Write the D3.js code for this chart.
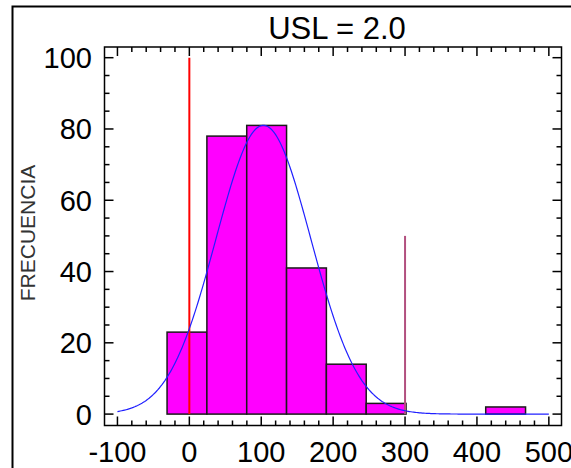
<!DOCTYPE html>
<html>
<head>
<meta charset="utf-8">
<script src="https://cdn.jsdelivr.net/npm/d3@7"></script>
<style>
  html, body { margin: 0; padding: 0; background: #fff; }
  svg { display: block; font-family: "Liberation Sans", Arial, sans-serif; }
</style>
</head>
<body>
<svg id="chart" width="571" height="468"></svg>
<script>
// Histogram bins (edges) and observed counts
const binEdges = [-31, 24.4, 79.8, 135.2, 190.6, 246, 301.4, 356.8, 412.2, 467.6];
const counts = [23, 78, 81, 41, 14, 3, 0, 0, 2];

// Fitted normal curve parameters
const fitMean = 103;
const fitSd = 66;
const curveRange = [-100, 500];

// Specification limits: [position, line height]
const lowerLimit = [0, 100];
const upperLimit = [300, 50];

// Axis ticks
const xTicks = [-100, 0, 100, 200, 300, 400, 500];
const yTicks = [0, 20, 40, 60, 80, 100];

const titleText = "USL = 2.0";
const yLabel = "FRECUENCIA";

const svg = d3.select("#chart");
const frame = { left: 104.5, right: 561.5, top: 47, bottom: 425.5 };

const x = d3.scaleLinear().domain([-118, 517.6]).range([frame.left, frame.right]);
const y = d3.scaleLinear().domain([-3.2, 103]).range([frame.bottom, frame.top]);

// Outer panel border
svg.append("rect")
  .attr("x", 12.5).attr("y", 6.5)
  .attr("width", 600).attr("height", 500)
  .attr("fill", "none").attr("stroke", "#000").attr("stroke-width", 2);

// Plot area
svg.append("rect")
  .attr("x", frame.left).attr("y", frame.top)
  .attr("width", frame.right - frame.left).attr("height", frame.bottom - frame.top)
  .attr("fill", "#fff");

// Histogram bars
const bins = counts.map((c, i) => ({ x0: binEdges[i], x1: binEdges[i + 1], n: c }));
svg.append("g").selectAll("rect").data(bins).join("rect")
  .attr("x", d => x(d.x0))
  .attr("y", d => y(d.n))
  .attr("width", d => x(d.x1) - x(d.x0))
  .attr("height", d => y(0) - y(d.n))
  .attr("fill", "#ff00ff")
  .attr("stroke", "#1a1a1a")
  .attr("stroke-width", 1.5);

// Specification lines
svg.append("line")
  .attr("x1", x(lowerLimit[0])).attr("x2", x(lowerLimit[0]))
  .attr("y1", y(0)).attr("y2", y(lowerLimit[1]))
  .attr("stroke", "#ff0000").attr("stroke-width", 2);
svg.append("line")
  .attr("x1", x(upperLimit[0])).attr("x2", x(upperLimit[0]))
  .attr("y1", y(0)).attr("y2", y(upperLimit[1]))
  .attr("stroke", "#b2507f").attr("stroke-width", 2);

// Fitted normal density scaled to counts
const total = d3.sum(counts);
const width = binEdges[1] - binEdges[0];
const density = v => total * width * Math.exp(-0.5 * ((v - fitMean) / fitSd) ** 2) / (fitSd * Math.sqrt(2 * Math.PI));
const curveX = d3.range(curveRange[0], curveRange[1] + 0.001, 2);
svg.append("path")
  .datum(curveX)
  .attr("d", d3.line().x(v => x(v)).y(v => y(density(v))))
  .attr("fill", "none").attr("stroke", "#2020ff").attr("stroke-width", 1.2);

// Frame
svg.append("rect")
  .attr("x", frame.left).attr("y", frame.top)
  .attr("width", frame.right - frame.left).attr("height", frame.bottom - frame.top)
  .attr("fill", "none").attr("stroke", "#000").attr("stroke-width", 1.5);

// Ticks pointing inward on all four sides
const tickG = svg.append("g").attr("stroke", "#000").attr("stroke-width", 1.5);
const xMinor = d3.range(-100, 501, 20);
const yMinor = d3.range(0, 101, 5);
xMinor.forEach(v => {
  const len = v % 100 === 0 ? 9 : 5;
  tickG.append("line").attr("x1", x(v)).attr("x2", x(v)).attr("y1", frame.bottom).attr("y2", frame.bottom - len);
  tickG.append("line").attr("x1", x(v)).attr("x2", x(v)).attr("y1", frame.top).attr("y2", frame.top + len);
});
yMinor.forEach(v => {
  const len = v % 20 === 0 ? 9 : 5;
  tickG.append("line").attr("y1", y(v)).attr("y2", y(v)).attr("x1", frame.left).attr("x2", frame.left + len);
  tickG.append("line").attr("y1", y(v)).attr("y2", y(v)).attr("x1", frame.right).attr("x2", frame.right - len);
});

// Tick labels
svg.append("g").selectAll("text").data(xTicks).join("text")
  .attr("x", d => x(d)).attr("y", 462)
  .attr("text-anchor", "middle")
  .attr("font-size", 29).attr("fill", "#000")
  .text(d => d);
svg.append("g").selectAll("text").data(yTicks).join("text")
  .attr("x", 92).attr("y", d => y(d))
  .attr("dy", "0.36em")
  .attr("text-anchor", "end")
  .attr("font-size", 29).attr("fill", "#000")
  .text(d => d);

// Title and axis label
svg.append("text")
  .attr("x", 337).attr("y", 39)
  .attr("text-anchor", "middle")
  .attr("font-size", 31).attr("fill", "#000")
  .text(titleText);
svg.append("text")
  .attr("transform", "translate(35,233) rotate(-90)")
  .attr("text-anchor", "middle")
  .attr("font-size", 21).attr("fill", "#333")
  .text(yLabel);
</script>
</body>
</html>
